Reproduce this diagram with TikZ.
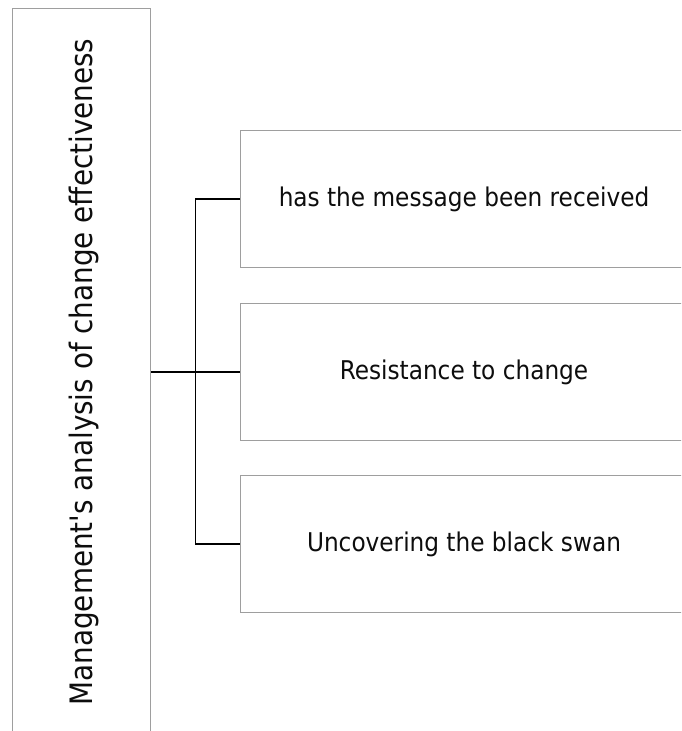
\documentclass[tikz,border=0pt]{standalone}
\usepackage{fontspec}
\setmainfont{DejaVu Sans Condensed}
\begin{document}
\begin{tikzpicture}[x=1pt,y=-1pt,
  frame/.style={draw=black!38,line width=1.1pt,fill=white,inner sep=0pt},
  item/.style={frame,minimum width=452pt,minimum height=137pt},
  label/.style={font=\fontsize{25.8}{30}\selectfont,text=black!95},
  link/.style={draw=black,line width=1.8pt}]
\useasboundingbox (0,0) rectangle (681,731);
\clip (0,0) rectangle (681,731);
% root box on the left, running off the bottom edge
\node[frame,minimum width=138pt,minimum height=740pt,anchor=north west]
  (root) at (12,8) {};
\node[rotate=90,font=\fontsize{30.9}{35}\selectfont,text=black!95]
  (roottext) at (84,372) {Management\textquotesingle s analysis of change effectiveness};
% the three branches, running off the right edge
\node[item,anchor=north west] (b1) at (240,130) {};
\node[item,anchor=north west] (b2) at (240,303) {};
\node[item,anchor=north west] (b3) at (240,475) {};
\node[label] (t1) at (464,199) {has the message been received};
\node[label] (t2) at (464,372) {Resistance to change};
\node[label] (t3) at (464,544) {Uncovering the black swan};
% bracket connectors
\coordinate (fork) at (195.5,199);
\draw[link] (b2.west -| root.east) -- (b2.west);
\draw[link] (b1.west |- t1) -- (fork) |- (b3.west |- t3);
\end{tikzpicture}
\end{document}
